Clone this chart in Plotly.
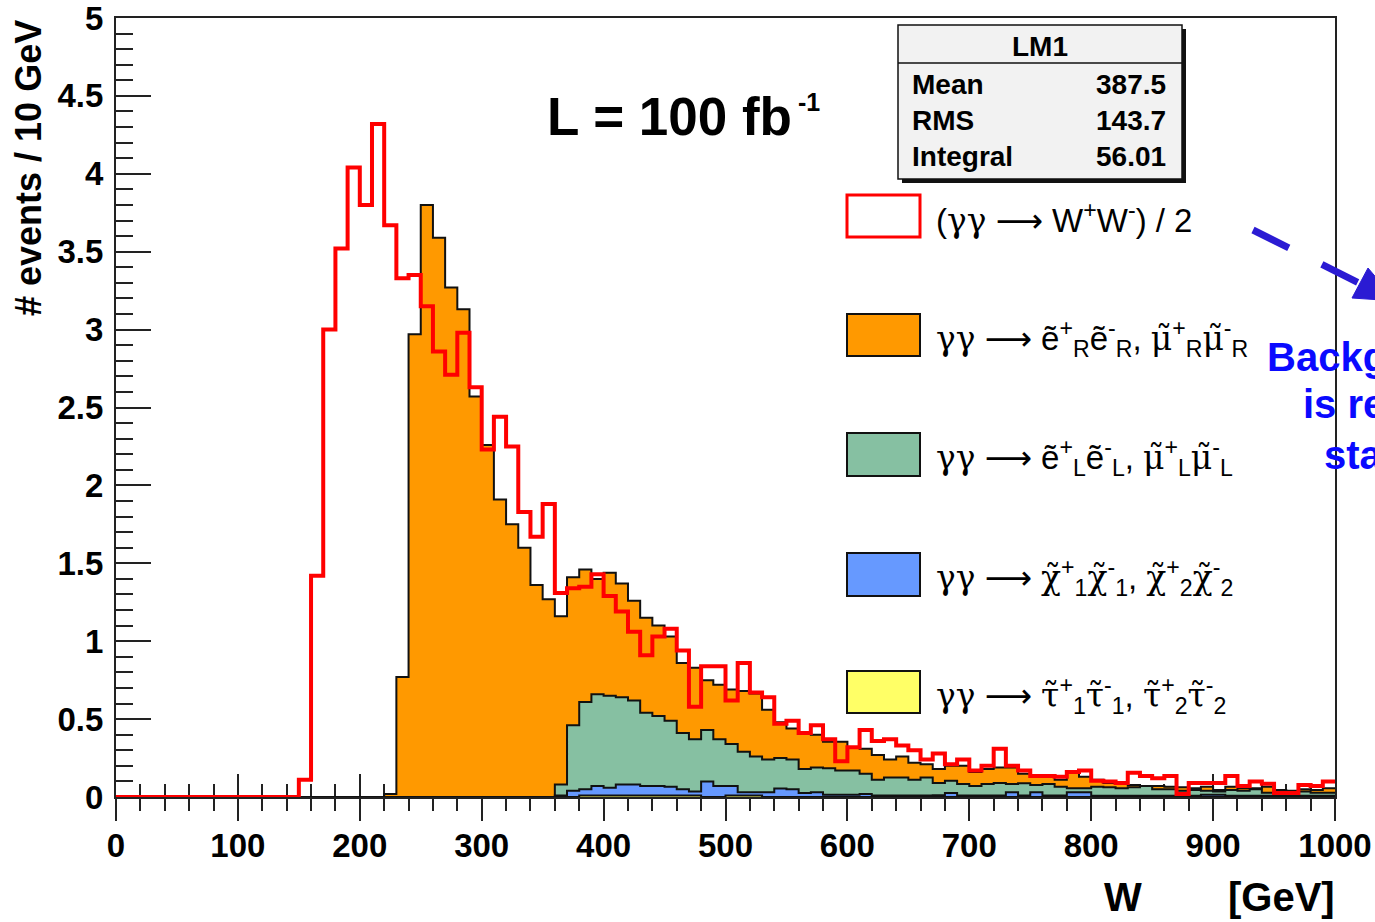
import numpy as np
import plotly.graph_objects as go

# ---------------- data (10 GeV bins, 0 .. 1000 GeV) ----------------
bin_edges_gev = list(range(0, 1001, 10))

# (gamma gamma -> W+W-)/2 background, overlaid (not stacked)
ww_half = [0]*15 + [
    0.11, 1.42, 3.00, 3.52, 4.04, 3.80, 4.32, 3.67, 3.33, 3.35,
    3.15, 2.86, 2.71, 2.98, 2.63, 2.23, 2.44, 2.25, 1.83, 1.67,
    1.88, 1.31, 1.34, 1.35, 1.43, 1.29, 1.19, 1.06, 0.91, 1.03,
    1.08, 0.94, 0.58, 0.84, 0.84, 0.62, 0.86, 0.67, 0.64, 0.47,
    0.49, 0.41, 0.46, 0.37, 0.23, 0.32, 0.43, 0.36, 0.37, 0.33,
    0.30, 0.24, 0.28, 0.21, 0.24, 0.17, 0.20, 0.31, 0.20, 0.17,
    0.135, 0.135, 0.13, 0.16, 0.17, 0.105, 0.10, 0.09, 0.155, 0.135,
    0.12, 0.135, 0.02, 0.09, 0.09, 0.09, 0.135, 0.07, 0.10, 0.085,
    0.025, 0.025, 0.077, 0.07, 0.10]

# Stacked SUSY signal, cumulative stack levels
# top of full stack (eR, muR on top)
stack_top_eR = [0]*22 + [
    0.02, 0.77, 2.97, 3.80, 3.59, 3.27, 3.13, 2.57,
    2.26, 1.91, 1.75, 1.60, 1.36, 1.27, 1.16, 1.41, 1.46, 1.40,
    1.44, 1.37, 1.26, 1.15, 1.10, 1.03, 0.86, 0.83, 0.75, 0.72,
    0.69, 0.68, 0.665, 0.56, 0.48, 0.44, 0.41, 0.40, 0.355, 0.355,
    0.32, 0.31, 0.27, 0.24, 0.26, 0.22, 0.21, 0.18, 0.20, 0.20,
    0.16, 0.18, 0.19, 0.19, 0.15, 0.13, 0.13, 0.11, 0.155, 0.13,
    0.11, 0.09, 0.083, 0.077, 0.066, 0.07, 0.066, 0.062, 0.056, 0.066,
    0.045, 0.066, 0.056, 0.056, 0.066, 0.045, 0.04, 0.05, 0.045, 0.056]
# top of eL, muL level
stack_top_eL = [0]*36 + [
    0.08, 0.46, 0.61, 0.66,
    0.65, 0.64, 0.62, 0.54, 0.52, 0.49, 0.41, 0.37, 0.43, 0.37,
    0.34, 0.29, 0.26, 0.24, 0.25, 0.24, 0.18, 0.19, 0.185, 0.17,
    0.17, 0.15, 0.11, 0.125, 0.125, 0.11, 0.125, 0.09, 0.105, 0.083,
    0.07, 0.083, 0.09, 0.083, 0.088, 0.077, 0.083, 0.066, 0.056, 0.056,
    0.066, 0.062, 0.056, 0.062, 0.07, 0.05, 0.05, 0.04, 0.045, 0.04,
    0.035, 0.045, 0.04, 0.05, 0.028, 0.035, 0.028, 0.035, 0.028, 0.028]
# top of chargino level
stack_top_chi = [0]*36 + [
    0.01, 0.04, 0.05, 0.07,
    0.06, 0.08, 0.08, 0.07, 0.07, 0.065, 0.05, 0.035, 0.10, 0.07,
    0.07, 0.03, 0.03, 0.03, 0.055, 0.05, 0.025, 0.03, 0.015, 0.015,
    0.015, 0.02, 0.01, 0.01, 0.01, 0.01, 0.01, 0.012, 0.025, 0.01,
    0.01, 0.01, 0.01, 0.03, 0.01, 0.03, 0.01, 0.01, 0.03, 0.03,
    0.008, 0.008, 0.008, 0.008, 0.008, 0.008, 0.008, 0.008, 0.008, 0.015,
    0.015, 0.008, 0.008, 0.008, 0.008, 0.008, 0.008, 0.008, 0.008, 0.008]
# top of stau level (bottom of stack)
stack_top_tau = [0]*38 + [0.01]*10 + [0]*2 + [0.01]*3 + [0]*47

x_tick_vals = list(range(0, 1001, 100))
y_tick_vals = [0, 0.5, 1, 1.5, 2, 2.5, 3, 3.5, 4, 4.5, 5]

stats_title = "LM1"
stats_rows = [("Mean", "387.5"), ("RMS", "143.7"), ("Integral", "56.01")]

G = '<span style="font-family:DejaVu Serif">'
A = '<span style="font-family:DejaVu Sans">\u27f6</span>'
E = "</span>"
legend_labels = [
    "(" + G + "\u03b3\u03b3" + E + " " + A + " W<sup>+</sup>W<sup>-</sup>) / 2",
    G + "\u03b3\u03b3" + E + " " + A + " e\u0303<sup>+</sup><sub>R</sub>e\u0303<sup>-</sup><sub>R</sub>, "
    + G + "\u03bc\u0303" + E + "<sup>+</sup><sub>R</sub>" + G + "\u03bc\u0303" + E + "<sup>-</sup><sub>R</sub>",
    G + "\u03b3\u03b3" + E + " " + A + " e\u0303<sup>+</sup><sub>L</sub>e\u0303<sup>-</sup><sub>L</sub>, "
    + G + "\u03bc\u0303" + E + "<sup>+</sup><sub>L</sub>" + G + "\u03bc\u0303" + E + "<sup>-</sup><sub>L</sub>",
    G + "\u03b3\u03b3" + E + " " + A + " " + G + "\u03c7\u0303" + E + "<sup>+</sup><sub>1</sub>"
    + G + "\u03c7\u0303" + E + "<sup>-</sup><sub>1</sub>, "
    + G + "\u03c7\u0303" + E + "<sup>+</sup><sub>2</sub>" + G + "\u03c7\u0303" + E + "<sup>-</sup><sub>2</sub>",
    G + "\u03b3\u03b3" + E + " " + A + " " + G + "\u03c4\u0303" + E + "<sup>+</sup><sub>1</sub>"
    + G + "\u03c4\u0303" + E + "<sup>-</sup><sub>1</sub>, "
    + G + "\u03c4\u0303" + E + "<sup>+</sup><sub>2</sub>" + G + "\u03c4\u0303" + E + "<sup>-</sup><sub>2</sub>",
]

# ---------------- styling ----------------
FONT = "Liberation Sans, Arial, Helvetica, sans-serif"
C_ORANGE = "#ff9900"
C_GREEN = "#86c0a2"
C_BLUE = "#6699ff"
C_YELLOW = "#ffff66"
C_RED = "#ff0000"

# plot-area pixel frame
PL, PR, PT, PB = 116, 1335, 18, 797


def px(xp):
    return (xp - PL) / (PR - PL)


def py(yp):
    return (PB - yp) / (PB - PT)


def step(vals):
    return bin_edges_gev, list(vals) + [vals[-1]]


fig = go.Figure()

for vals, col in [(stack_top_eR, C_ORANGE), (stack_top_eL, C_GREEN),
                  (stack_top_chi, C_BLUE), (stack_top_tau, C_YELLOW)]:
    xs, ys = step(vals)
    fig.add_trace(go.Scatter(x=xs, y=ys, mode="lines",
                             line=dict(shape="hv", color="#111111", width=2),
                             fill="tozeroy", fillcolor=col,
                             hoverinfo="skip", showlegend=False))

xs, ys = step(ww_half)
fig.add_trace(go.Scatter(x=xs, y=ys, mode="lines",
                         line=dict(shape="hv", color=C_RED, width=4),
                         hoverinfo="skip", showlegend=False))

# dummy (empty) trace so the outward tick axis is drawn
fig.add_trace(go.Scatter(x=[], y=[], xaxis="x2", yaxis="y", showlegend=False))

tickfont = dict(family=FONT, size=33, color="black", weight="bold")

fig.update_layout(
    width=1375, height=922,
    margin=dict(l=PL, r=1375 - PR, t=PT, b=922 - PB, autoexpand=False),
    plot_bgcolor="white", paper_bgcolor="white",
    showlegend=False,
    xaxis=dict(range=[0, 1000], tickmode="array", tickvals=x_tick_vals,
               ticks="inside", ticklen=23, tickwidth=1.5, tickcolor="#222",
               minor=dict(dtick=20, tick0=0, ticks="inside", ticklen=13,
                          tickwidth=1.5, tickcolor="#222"),
               showline=True, linecolor="#222", linewidth=2, mirror=True,
               showgrid=False, zeroline=False, layer="below traces",
               automargin=False, ticklabeloverflow="allow",
               tickfont=tickfont, ticklabelstandoff=18),
    xaxis2=dict(range=[0, 1000], overlaying="x", matches="x", anchor="y",
                side="bottom", tickmode="array", tickvals=x_tick_vals,
                ticks="outside", ticklen=23, tickwidth=1.5, tickcolor="#222",
                minor=dict(dtick=20, tick0=0, ticks="outside", ticklen=13,
                           tickwidth=1.5, tickcolor="#222"),
                showticklabels=False, showline=False, showgrid=False,
                zeroline=False, automargin=False),
    yaxis=dict(range=[0, 5], tickmode="array", tickvals=y_tick_vals,
               ticks="inside", ticklen=35, tickwidth=1.5, tickcolor="#222",
               minor=dict(dtick=0.1, tick0=0, ticks="inside", ticklen=17,
                          tickwidth=1.5, tickcolor="#222"),
               showline=True, linecolor="#222", linewidth=2, mirror=True,
               showgrid=False, zeroline=False, automargin=False,
               ticklabeloverflow="allow",
               tickfont=tickfont, ticklabelstandoff=4),
)

shapes = []
annos = []

# ---- stats box ----
shapes.append(dict(type="rect", xref="paper", yref="paper",
                   x0=px(902), x1=px(1186), y0=py(183), y1=py(29),
                   fillcolor="#111", line=dict(width=0)))
shapes.append(dict(type="rect", xref="paper", yref="paper",
                   x0=px(898), x1=px(1182), y0=py(179), y1=py(25),
                   fillcolor="#f2f2f2", line=dict(color="#111", width=1.5)))
shapes.append(dict(type="line", xref="paper", yref="paper",
                   x0=px(898), x1=px(1182), y0=py(63), y1=py(63),
                   line=dict(color="#111", width=1.5)))
annos.append(dict(text=stats_title, x=px(1040), y=py(46), xref="paper", yref="paper",
                  xanchor="center", yanchor="middle", showarrow=False,
                  font=dict(family=FONT, size=28, color="black", weight="bold")))
for i, (name, val) in enumerate(stats_rows):
    yc = 85 + 35.5 * i
    annos.append(dict(text=name, x=px(910), y=py(yc), xref="paper", yref="paper",
                      xanchor="left", yanchor="middle", showarrow=False,
                      font=dict(family=FONT, size=28, color="black", weight="bold")))
    annos.append(dict(text=val, x=px(1168), y=py(yc), xref="paper", yref="paper",
                      xanchor="right", yanchor="middle", showarrow=False,
                      font=dict(family=FONT, size=28, color="black", weight=600)))

# ---- luminosity text ----
annos.append(dict(text="L = 100 fb", x=px(545), y=py(117), xref="paper", yref="paper",
                  xanchor="left", yanchor="middle", showarrow=False,
                  font=dict(family=FONT, size=53, color="black", weight="bold")))
annos.append(dict(text="-1", x=px(796), y=py(102), xref="paper", yref="paper",
                  xanchor="left", yanchor="middle", showarrow=False,
                  font=dict(family=FONT, size=25, color="black", weight="bold")))

# ---- legend ----
legend_boxes = [(195, 237), (314, 356), (433, 476), (553, 596), (671, 713)]
legend_fill = ["white", C_ORANGE, C_GREEN, C_BLUE, C_YELLOW]
for i, ((y0, y1), fc, lab) in enumerate(zip(legend_boxes, legend_fill, legend_labels)):
    if i == 0:
        ln = dict(color=C_RED, width=3)
    else:
        ln = dict(color="#111", width=2)
    shapes.append(dict(type="rect", xref="paper", yref="paper",
                       x0=px(847), x1=px(920), y0=py(y1), y1=py(y0),
                       fillcolor=fc, line=ln))
    annos.append(dict(text=lab, x=px(934), y=py((y0 + y1) / 2 + 3), xref="paper",
                      yref="paper", xanchor="left", yanchor="middle", showarrow=False,
                      font=dict(family=FONT, size=33, color="black")))

# ---- axis titles ----
annos.append(dict(text="# events / 10 GeV", x=px(28), y=py(18), xref="paper", yref="paper",
                  xanchor="center", yanchor="top", textangle=-90, showarrow=False,
                  font=dict(family=FONT, size=36, color="black", weight="bold")))
annos.append(dict(text="W", x=px(1123), y=py(897), xref="paper", yref="paper",
                  xanchor="center", yanchor="middle", showarrow=False,
                  font=dict(family=FONT, size=40, color="black", weight="bold")))
annos.append(dict(text="[GeV]", x=px(1337), y=py(897), xref="paper", yref="paper",
                  xanchor="right", yanchor="middle", showarrow=False,
                  font=dict(family=FONT, size=40, color="black", weight="bold")))

# ---- blue side note (cut by the page edge, as in the original slide) ----
for txt, xl, yc in [("Background", 1265, 357), ("is reduced", 1301, 404),
                    ("statistically", 1322, 455)]:
    annos.append(dict(text=txt, x=px(xl), y=py(yc), xref="paper", yref="paper",
                      xanchor="left", yanchor="middle", showarrow=False,
                      font=dict(family=FONT, size=40, color="#0a0aff", weight="bold")))

# dashed arrow
shapes.append(dict(type="line", xref="paper", yref="paper",
                   x0=px(1253), y0=py(230), x1=px(1358), y1=py(282.5),
                   line=dict(color="#2b1bd3", width=7, dash="40px,37px")))
tip = (1396, 301)
c1 = (1352, 298)
c2 = (1368, 268)
path = "M {} {} L {} {} L {} {} Z".format(px(tip[0]), py(tip[1]), px(c1[0]), py(c1[1]),
                                          px(c2[0]), py(c2[1]))
shapes.append(dict(type="path", xref="paper", yref="paper", path=path,
                   fillcolor="#2b1bd3", line=dict(color="#2b1bd3", width=1)))

fig.update_layout(shapes=shapes, annotations=annos)

fig.write_html("out.html", config={"displayModeBar": False},
               post_script="document.body.style.margin='0';")
